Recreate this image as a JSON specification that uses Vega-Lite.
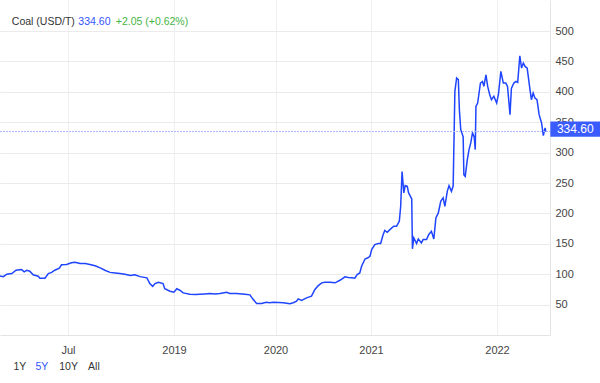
{
  "$schema": "https://vega.github.io/schema/vega-lite/v6.json",
  "width": 550,
  "height": 335,
  "autosize": {"type": "none"},
  "padding": {"left": 0, "top": 0, "right": 50, "bottom": 48},
  "config": {"view": {"stroke": null}, "font": "Liberation Sans"},
  "datasets": {
    "coal": [
      {"date": "2017-11-01", "price": 97}, {"date": "2017-11-13", "price": 96}, {"date": "2017-11-25", "price": 100},
      {"date": "2017-12-13", "price": 101}, {"date": "2017-12-28", "price": 106.5}, {"date": "2018-01-17", "price": 107.6},
      {"date": "2018-01-26", "price": 104}, {"date": "2018-02-04", "price": 106.5}, {"date": "2018-02-15", "price": 105},
      {"date": "2018-02-27", "price": 99}, {"date": "2018-03-17", "price": 96.6}, {"date": "2018-03-23", "price": 93.3},
      {"date": "2018-04-10", "price": 93.3}, {"date": "2018-04-22", "price": 101}, {"date": "2018-05-04", "price": 103},
      {"date": "2018-05-15", "price": 106.5}, {"date": "2018-05-31", "price": 110}, {"date": "2018-06-08", "price": 115.4},
      {"date": "2018-06-26", "price": 116}, {"date": "2018-07-07", "price": 118.7}, {"date": "2018-07-13", "price": 119.7},
      {"date": "2018-07-22", "price": 117.5}, {"date": "2018-07-31", "price": 117.5}, {"date": "2018-08-08", "price": 116},
      {"date": "2018-08-17", "price": 114}, {"date": "2018-08-26", "price": 110.4}, {"date": "2018-09-03", "price": 106.5},
      {"date": "2018-09-12", "price": 103}, {"date": "2018-09-21", "price": 102}, {"date": "2018-09-29", "price": 101},
      {"date": "2018-10-08", "price": 100}, {"date": "2018-10-17", "price": 98}, {"date": "2018-10-25", "price": 99},
      {"date": "2018-11-03", "price": 96}, {"date": "2018-11-15", "price": 94}, {"date": "2018-11-20", "price": 84.6},
      {"date": "2018-11-25", "price": 80}, {"date": "2018-11-29", "price": 84.6}, {"date": "2018-12-05", "price": 86.8},
      {"date": "2018-12-13", "price": 84.6}, {"date": "2018-12-16", "price": 76}, {"date": "2018-12-25", "price": 72},
      {"date": "2019-01-01", "price": 70.3}, {"date": "2019-01-11", "price": 76}, {"date": "2019-01-22", "price": 73.6},
      {"date": "2019-02-03", "price": 69.3}, {"date": "2019-02-27", "price": 67}, {"date": "2019-03-20", "price": 66.5},
      {"date": "2019-04-04", "price": 67}, {"date": "2019-04-22", "price": 67.6}, {"date": "2019-05-10", "price": 68.2},
      {"date": "2019-05-28", "price": 67.5}, {"date": "2019-06-15", "price": 68.2}, {"date": "2019-07-09", "price": 70.3},
      {"date": "2019-07-21", "price": 68.2}, {"date": "2019-08-14", "price": 68.2}, {"date": "2019-09-13", "price": 67},
      {"date": "2019-10-01", "price": 66}, {"date": "2019-10-11", "price": 59.5}, {"date": "2019-10-25", "price": 51.8},
      {"date": "2019-11-12", "price": 51.8}, {"date": "2019-11-28", "price": 54}, {"date": "2019-12-12", "price": 53},
      {"date": "2019-12-24", "price": 54}, {"date": "2020-01-31", "price": 53}, {"date": "2020-02-25", "price": 51.3},
      {"date": "2020-03-09", "price": 53}, {"date": "2020-03-22", "price": 55.5}, {"date": "2020-03-28", "price": 59.5},
      {"date": "2020-04-10", "price": 57}, {"date": "2020-04-29", "price": 61}, {"date": "2020-05-18", "price": 63.8},
      {"date": "2020-05-31", "price": 74.8}, {"date": "2020-06-13", "price": 81.3}, {"date": "2020-06-26", "price": 85.8},
      {"date": "2020-07-08", "price": 86.8}, {"date": "2020-07-27", "price": 86.8}, {"date": "2020-08-16", "price": 85.8},
      {"date": "2020-09-04", "price": 90}, {"date": "2020-09-23", "price": 95.6}, {"date": "2020-10-06", "price": 94.5},
      {"date": "2020-10-20", "price": 94}, {"date": "2020-10-31", "price": 93.3}, {"date": "2020-11-09", "price": 99.4},
      {"date": "2020-11-19", "price": 102}, {"date": "2020-11-26", "price": 113}, {"date": "2020-12-09", "price": 125},
      {"date": "2020-12-20", "price": 127}, {"date": "2020-12-28", "price": 129.5}, {"date": "2021-01-03", "price": 140.5},
      {"date": "2021-01-12", "price": 148.7}, {"date": "2021-01-22", "price": 150.4}, {"date": "2021-01-29", "price": 150.4},
      {"date": "2021-02-05", "price": 165}, {"date": "2021-02-10", "price": 172}, {"date": "2021-02-17", "price": 169},
      {"date": "2021-02-27", "price": 174.5}, {"date": "2021-03-08", "price": 179}, {"date": "2021-03-16", "price": 179},
      {"date": "2021-03-24", "price": 187}, {"date": "2021-03-28", "price": 211.7}, {"date": "2021-04-01", "price": 269},
      {"date": "2021-04-06", "price": 233.7}, {"date": "2021-04-10", "price": 245.7}, {"date": "2021-04-16", "price": 244.5},
      {"date": "2021-04-20", "price": 233.7}, {"date": "2021-04-29", "price": 223.8}, {"date": "2021-05-01", "price": 141.7},
      {"date": "2021-05-05", "price": 159.7}, {"date": "2021-05-13", "price": 150.4}, {"date": "2021-05-18", "price": 158},
      {"date": "2021-05-27", "price": 151.5}, {"date": "2021-06-01", "price": 157}, {"date": "2021-06-11", "price": 157},
      {"date": "2021-06-17", "price": 165}, {"date": "2021-06-25", "price": 170.6}, {"date": "2021-07-02", "price": 158},
      {"date": "2021-07-08", "price": 192.6}, {"date": "2021-07-15", "price": 200.8}, {"date": "2021-07-22", "price": 220},
      {"date": "2021-07-29", "price": 225.5}, {"date": "2021-08-03", "price": 211.7}, {"date": "2021-08-10", "price": 236.3},
      {"date": "2021-08-15", "price": 245.7}, {"date": "2021-08-22", "price": 236.3}, {"date": "2021-08-27", "price": 245},
      {"date": "2021-09-01", "price": 400.7}, {"date": "2021-09-06", "price": 422.7}, {"date": "2021-09-11", "price": 420},
      {"date": "2021-09-14", "price": 370.6}, {"date": "2021-09-18", "price": 337.7}, {"date": "2021-09-23", "price": 329.5},
      {"date": "2021-09-25", "price": 325.7}, {"date": "2021-09-27", "price": 263.8}, {"date": "2021-10-01", "price": 261},
      {"date": "2021-10-07", "price": 288.4}, {"date": "2021-10-12", "price": 304.9}, {"date": "2021-10-17", "price": 315.9},
      {"date": "2021-10-22", "price": 332.3}, {"date": "2021-10-27", "price": 325.7}, {"date": "2021-10-30", "price": 304.9},
      {"date": "2021-11-01", "price": 376}, {"date": "2021-11-06", "price": 381.6}, {"date": "2021-11-10", "price": 398},
      {"date": "2021-11-14", "price": 414.4}, {"date": "2021-11-20", "price": 417}, {"date": "2021-11-24", "price": 408.9},
      {"date": "2021-11-30", "price": 428}, {"date": "2021-12-05", "price": 408.9}, {"date": "2021-12-11", "price": 395.2},
      {"date": "2021-12-16", "price": 387}, {"date": "2021-12-23", "price": 392.5}, {"date": "2021-12-31", "price": 381.6},
      {"date": "2022-01-05", "price": 395.2}, {"date": "2022-01-12", "price": 433.5}, {"date": "2022-01-19", "price": 414.4},
      {"date": "2022-01-26", "price": 414.4}, {"date": "2022-01-31", "price": 408.9}, {"date": "2022-02-07", "price": 362.4},
      {"date": "2022-02-11", "price": 405.5}, {"date": "2022-02-18", "price": 414.4}, {"date": "2022-02-24", "price": 417},
      {"date": "2022-03-01", "price": 415.5}, {"date": "2022-03-07", "price": 459.3}, {"date": "2022-03-12", "price": 439},
      {"date": "2022-03-17", "price": 447.3}, {"date": "2022-03-22", "price": 441.7}, {"date": "2022-03-28", "price": 439},
      {"date": "2022-04-05", "price": 403.5}, {"date": "2022-04-09", "price": 387}, {"date": "2022-04-14", "price": 398},
      {"date": "2022-04-19", "price": 389.8}, {"date": "2022-04-25", "price": 387}, {"date": "2022-05-01", "price": 362.4},
      {"date": "2022-05-08", "price": 348.7}, {"date": "2022-05-13", "price": 327.8}, {"date": "2022-05-18", "price": 340.5},
      {"date": "2022-05-20", "price": 334.6}
    ],
    "header": [
      {"label": "Coal (USD/T)", "date": "2017-12-13", "price": 515, "kind": "name"},
      {"label": "334.60", "date": "2018-07-19", "price": 515, "kind": "price"},
      {"label": "+2.05 (+0.62%)", "date": "2018-09-22", "price": 515, "kind": "change"}
    ],
    "buttons": [
      {"label": "1Y", "date": "2018-01-11", "price": -53, "kind": "no"},
      {"label": "5Y", "date": "2018-03-30", "price": -53, "kind": "yes"},
      {"label": "10Y", "date": "2018-07-02", "price": -53, "kind": "no"},
      {"label": "All", "date": "2018-08-15", "price": -53, "kind": "no"}
    ]
  },
  "encoding": {
    "x": {
      "field": "date", "type": "quantitative",
      "scale": {
        "type": "linear", "nice": false, "zero": false,
        "domain": [1509494400000, 1530403200000, 1546300800000, 1577836800000, 1609459200000, 1640995200000, 1654041600000],
        "range": [0, 68, 174, 275.5, 371, 497, 550]
      },
      "axis": {
        "title": null,
        "values": [1530403200000, 1546300800000, 1577836800000, 1609459200000, 1640995200000],
        "labelExpr": "utcFormat(datum.value, '%m') == '07' ? 'Jul' : utcFormat(datum.value, '%Y')",
        "grid": true, "gridColor": "#efefef", "gridWidth": 1,
        "domain": true, "domainColor": "#e4e4e4",
        "ticks": false, "labelPadding": 9, "labelOverlap": false,
        "labelFontSize": 11, "labelColor": "#444", "labelFont": "Liberation Sans"
      }
    },
    "y": {
      "field": "price", "type": "quantitative",
      "scale": {"domain": [0, 551], "nice": false, "zero": true},
      "axis": {
        "title": null, "orient": "right",
        "values": [50, 100, 150, 200, 250, 300, 350, 400, 450, 500],
        "grid": true, "gridColor": "#ebebeb",
        "domain": true, "domainColor": "#e4e4e4",
        "ticks": false, "labelPadding": 5, "labelOverlap": false,
        "labelFontSize": 11, "labelColor": "#444", "labelFont": "Liberation Sans"
      }
    }
  },
  "layer": [
    {
      "data": {"name": "coal", "format": {"parse": {"date": "date", "price": "number"}}},
      "mark": {"type": "line", "color": "#1f45ff", "strokeWidth": 1.5, "interpolate": "linear"}
    },
    {
      "data": {"values": [{"date": "2017-11-01", "price": 334.6, "date2": "2022-06-01"}], "format": {"parse": {"date": "date", "date2": "date", "price": "number"}}},
      "mark": {"type": "rule", "color": "#a9b6ff", "strokeWidth": 1, "strokeDash": [2, 1]},
      "encoding": {"x2": {"field": "date2"}}
    },
    {
      "data": {"values": [{"date": "2022-06-02", "date2": "2022-11-01", "price": 351, "price2": 326}], "format": {"parse": {"date": "date", "date2": "date", "price": "number", "price2": "number"}}},
      "mark": {"type": "rect", "color": "#3a5cff"},
      "encoding": {"x2": {"field": "date2"}, "y2": {"field": "price2"}}
    },
    {
      "data": {"values": [{"date": "2022-08-12", "price": 338.5, "label": "334.60"}], "format": {"parse": {"date": "date", "price": "number"}}},
      "mark": {"type": "text", "color": "white", "fontSize": 12, "font": "Liberation Sans", "align": "center", "baseline": "middle"},
      "encoding": {"text": {"field": "label"}}
    },
    {
      "data": {"name": "header", "format": {"parse": {"date": "date", "price": "number"}}},
      "mark": {"type": "text", "fontSize": 10.5, "font": "Liberation Sans", "align": "left", "baseline": "middle"},
      "encoding": {
        "text": {"field": "label"},
        "color": {"field": "kind", "type": "nominal", "scale": {"domain": ["name", "price", "change", "no", "yes"], "range": ["#333333", "#3355ff", "#45b545", "#333333", "#3355ff"]}, "legend": null}
      }
    },
    {
      "data": {"name": "buttons", "format": {"parse": {"date": "date", "price": "number"}}},
      "mark": {"type": "text", "fontSize": 10.5, "font": "Liberation Sans", "align": "center", "baseline": "middle"},
      "encoding": {
        "text": {"field": "label"},
        "color": {"field": "kind", "type": "nominal", "scale": {"domain": ["name", "price", "change", "no", "yes"], "range": ["#333333", "#3355ff", "#45b545", "#333333", "#3355ff"]}, "legend": null}
      }
    }
  ]
}
